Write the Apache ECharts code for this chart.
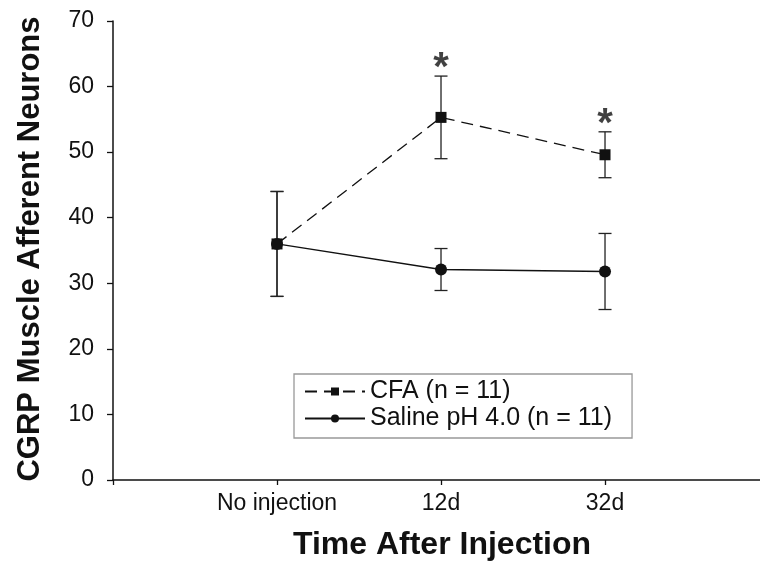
<!DOCTYPE html>
<html>
<head>
<meta charset="utf-8">
<script src="https://cdn.jsdelivr.net/npm/echarts@6/dist/echarts.min.js"></script>
<style>
  html, body { margin: 0; padding: 0; background: #fff; }
  #main { width: 760px; height: 572px; }
</style>
</head>
<body>
<div id="main"></div>
<script>
// time points (x positions 1..3 on a value axis)
const categories = ['No injection', '12d', '32d'];
const xPos = [1, 2, 3];

// CFA (n = 11)
const cfaMean = [36, 55.3, 49.6];
const cfaErr = [8, 6.3, 3.5];
const cfaSig = [false, true, true];

// Saline pH 4.0 (n = 11)
const salineMean = [36, 32.1, 31.8];
const salineErr = [8, 3.2, 5.8];

const FONT = 'Arial, "Liberation Sans", Helvetica, sans-serif';
const INK = '#111';

function pts(mean) {
  return xPos.map((x, i) => [x, mean[i]]);
}
function bars(mean, err) {
  return xPos.map((x, i) => [x, mean[i] - err[i], mean[i] + err[i]]);
}

// vertical error bar with caps
function renderErr(params, api) {
  const x = api.value(0);
  const lo = api.coord([x, api.value(1)]);
  const hi = api.coord([x, api.value(2)]);
  const w = 6.5;
  const st = { stroke: '#222', lineWidth: 1.3 };
  return {
    type: 'group',
    children: [
      { type: 'line', shape: { x1: hi[0], y1: hi[1], x2: lo[0], y2: lo[1] }, style: st },
      { type: 'line', shape: { x1: hi[0] - w, y1: hi[1], x2: hi[0] + w, y2: hi[1] }, style: st },
      { type: 'line', shape: { x1: lo[0] - w, y1: lo[1], x2: lo[0] + w, y2: lo[1] }, style: st }
    ]
  };
}

const chart = echarts.init(document.getElementById('main'));

const option = {
  animation: false,
  backgroundColor: '#fff',
  textStyle: { fontFamily: FONT, color: INK },
  grid: { left: 113, right: 0, top: 21, bottom: 92, containLabel: false },
  xAxis: {
    type: 'value',
    min: 0,
    max: 3.945,
    interval: 1,
    splitLine: { show: false },
    axisLine: { lineStyle: { color: INK, width: 1.5 } },
    axisTick: { length: 5, lineStyle: { color: INK, width: 1.3 } },
    axisLabel: {
      fontSize: 23,
      color: INK,
      fontFamily: FONT,
      margin: 12,
      showMaxLabel: false,
      formatter: function (v) {
        const i = xPos.indexOf(v);
        return i >= 0 ? categories[i] : '';
      }
    }
  },
  yAxis: {
    type: 'value',
    min: 0,
    max: 70,
    interval: 10,
    splitLine: { show: false },
    axisLine: { show: true, lineStyle: { color: INK, width: 1.5 } },
    axisTick: { show: true, length: 6, lineStyle: { color: INK, width: 1.3 } },
    axisLabel: { fontSize: 23, color: INK, fontFamily: FONT, margin: 19 }
  },
  legend: {
    orient: 'vertical',
    left: 294,
    top: 374,
    padding: [5, 20, 7, 10],
    itemGap: 2,
    itemWidth: 60,
    itemHeight: 10,
    backgroundColor: '#fff',
    borderColor: '#999',
    borderWidth: 1.3,
    borderRadius: 0,
    textStyle: { fontSize: 25, color: INK, fontFamily: FONT },
    data: ['CFA (n = 11)', 'Saline pH 4.0 (n = 11)']
  },
  graphic: [
    {
      type: 'text',
      x: 30,
      y: 249,
      rotation: Math.PI / 2,
      style: {
        text: 'CGRP Muscle Afferent Neurons',
        font: 'bold 31px ' + FONT,
        fill: INK,
        align: 'center',
        verticalAlign: 'middle'
      }
    },
    {
      type: 'text',
      x: 442,
      y: 545,
      style: {
        text: 'Time After Injection',
        font: 'bold 32px ' + FONT,
        fill: INK,
        align: 'center',
        verticalAlign: 'middle'
      }
    }
  ],
  series: [
    {
      name: 'cfaErr',
      type: 'custom',
      renderItem: renderErr,
      data: bars(cfaMean, cfaErr),
      z: 1,
      silent: true
    },
    {
      name: 'salineErr',
      type: 'custom',
      renderItem: renderErr,
      data: bars(salineMean, salineErr),
      z: 1,
      silent: true
    },
    {
      name: 'CFA (n = 11)',
      type: 'line',
      data: pts(cfaMean),
      symbol: 'rect',
      symbolSize: 11,
      lineStyle: { color: INK, width: 1.3, type: [12, 7] },
      itemStyle: { color: INK },
      z: 3
    },
    {
      name: 'Saline pH 4.0 (n = 11)',
      type: 'line',
      data: pts(salineMean),
      symbol: 'circle',
      symbolSize: 12,
      lineStyle: { color: INK, width: 1.3 },
      itemStyle: { color: INK },
      z: 4
    },
    {
      name: 'sig',
      type: 'scatter',
      symbolSize: 0,
      silent: true,
      data: xPos
        .map((x, i) => (cfaSig[i] ? [x, cfaMean[i] + cfaErr[i]] : null))
        .filter(d => d),
      label: {
        show: true,
        position: 'top',
        distance: -13,
        formatter: '*',
        fontSize: 40,
        fontWeight: 'bold',
        color: INK,
        fontFamily: FONT
      }
    }
  ]
};

chart.setOption(option);
</script>
</body>
</html>
